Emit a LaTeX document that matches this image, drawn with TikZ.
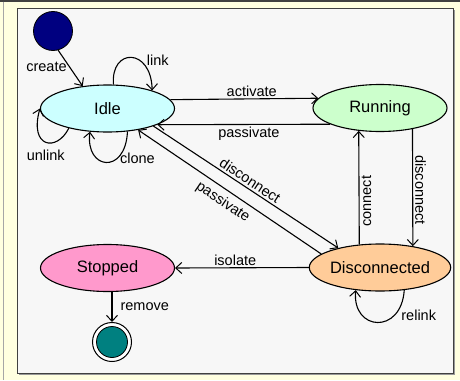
\documentclass[tikz,border=0pt]{standalone}
\usepackage{fontspec}
\setmainfont{Liberation Sans}
\usetikzlibrary{arrows.meta,shapes.geometric}

\definecolor{bgcream}{HTML}{FFFFE0}
\definecolor{panelgray}{HTML}{F7F7F7}
\definecolor{panelrim}{HTML}{404040}
\definecolor{initblue}{HTML}{000080}
\definecolor{idlefill}{HTML}{CCFFFF}
\definecolor{runfill}{HTML}{CCFFCC}
\definecolor{stopfill}{HTML}{FF99CC}
\definecolor{discfill}{HTML}{FFCC99}
\definecolor{finteal}{HTML}{008080}

\begin{document}
\begin{tikzpicture}[x=1pt,y=-1pt,
  state/.style={ellipse, draw, line width=1.1pt, minimum width=134pt,
    minimum height=47pt, inner sep=0pt, font=\fontsize{16.5}{18}\selectfont},
  tr/.style={draw, line width=1.1pt,
    -{Straight Barb[length=6pt,width=11pt,line width=1pt]}},
  lbl/.style={font=\fontsize{14.5}{16}\selectfont, inner sep=2pt}]

% window background and frame
\fill[bgcream] (0,0) rectangle (460,380);
\useasboundingbox (0,0) rectangle (460,380);
\draw[panelrim, line width=1.5pt] (0,0.75) -- (460,0.75);
\draw[gray!70, line width=1pt] (3,1.5) -- (3,380);
\fill[gray!80] (18.5,9.5) rectangle (454.5,374.5);
\filldraw[fill=panelgray, draw=panelrim, line width=1pt] (17,8) rectangle (453,373);

% states
\node[circle, fill=initblue, draw=black, line width=0.8pt, minimum size=39pt,
  inner sep=0pt] (init) at (53,31) {};
\node[state, fill=idlefill] (idle) at (107.5,108.5) {Idle};
\node[state, fill=runfill] (run) at (380,108) {Running};
\node[state, fill=stopfill] (stop) at (107.5,268) {Stopped};
\node[state, fill=discfill] (disc) at (380,267.5) {Disconnected};
\node[circle, draw, fill=white, line width=1pt, minimum size=39pt,
  inner sep=0pt] (fin) at (112,342) {};
\node[circle, draw, fill=finteal, line width=0.8pt, minimum size=31pt,
  inner sep=0pt] (fincore) at (fin) {};

% transitions
\draw[tr] (init.-75) -- (idle.138) node[lbl, pos=0.45, left] {create};
\draw[tr] (idle.76) .. controls +(-3,-37) and +(-1,-43) .. (idle.22)
  node[lbl, pos=0.62, anchor=west, xshift=6pt] {link};
\draw[tr] (idle.207.4) .. controls +(-12,24) and +(-11,39.5) .. (idle.180)
  node[lbl, pos=0.5, below=5pt] {unlink};
\draw[tr] (idle.-49) .. controls +(-2,44) and +(-5,38) .. (idle.-127.6)
  node[lbl, pos=0.3, right] {clone};
\draw[tr] (idle.8.3) -- (run.171.7) node[lbl, pos=0.55, above] {activate};
\draw[tr] (run.198.2) -- (idle.-18.2) node[lbl, pos=0.47, below] {passivate};
\draw[tr] (idle.-21) -- (disc.155.6)
  node[lbl, pos=0.5, above, sloped] {disconnect};
\draw[tr] (disc.167.8) -- (idle.-35)
  node[lbl, pos=0.5, below=3pt, sloped] {passivate};
\draw[tr] (disc.132.3) -- (run.227.7)
  node[lbl, pos=0.38, rotate=90, anchor=north] {connect};
\draw[tr] (run.-33.9) -- (disc.33.9)
  node[lbl, pos=0.52, rotate=-90, anchor=south] {disconnect};
\draw[tr] (disc.west) -- (stop.east) node[lbl, pos=0.55, above] {isolate};
\draw[tr] (stop.south -| fin.north) -- (fin.north)
  node[lbl, midway, right=6pt] {remove};
\draw[tr] (disc.-43.9) .. controls +(-3,45) and +(-4,41) .. (disc.-137.6)
  node[lbl, pos=0.25, right=4pt] {relink};
\end{tikzpicture}
\end{document}
